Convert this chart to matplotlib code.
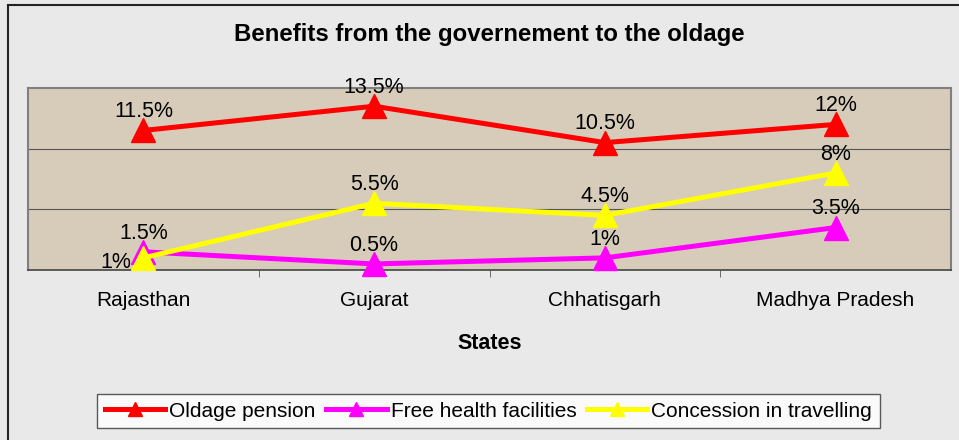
import matplotlib
matplotlib.use('Agg')
import matplotlib.pyplot as plt
import numpy as np

states = ['Rajasthan', 'Gujarat', 'Chhatisgarh', 'Madhya Pradesh']
pension = [11.5, 13.5, 10.5, 12]
health = [1.5, 0.5, 1, 3.5]
travel = [1, 5.5, 4.5, 8]
series_names = ['Oldage pension', 'Free health facilities', 'Concession in travelling']

plt.rcParams['font.family'] = ['Liberation Sans', 'DejaVu Sans']

fig = plt.figure(figsize=(9.59, 4.40), dpi=100)
fig.patch.set_facecolor('#e9e9e9')
# outer chart frame (left/top visible)
fig.add_artist(plt.Line2D([8/959, 8/959], [0, 1-5/440], color='#222222', lw=1.5))
fig.add_artist(plt.Line2D([8/959, 1], [1-5/440, 1-5/440], color='#222222', lw=1.5))

ax = fig.add_axes([28/959, 1-270/440, (951-28)/959, (270-88)/440])
ax.set_facecolor('#d6ccb9')
x = np.arange(len(states))

cols = ['#ff0000', '#ff00ff', '#ffff00']
data = [pension, health, travel]
for vals, c, name in zip(data, cols, series_names):
    ax.plot(x, vals, color=c, lw=3.6, marker='^', ms=17, mec=c, mfc=c,
            label=name, clip_on=False, zorder=3)

# data labels
for vals in data:
    for xi, v in zip(x, vals):
        lab = '%g%%' % v
        if vals is travel and xi == 0:
            ax.annotate(lab, (xi, v), xytext=(-20, -3), textcoords='offset points',
                        ha='center', va='center', fontsize=15.5, zorder=5)
        else:
            ax.annotate(lab, (xi, v), xytext=(0, 13.5), textcoords='offset points',
                        ha='center', va='center', fontsize=15.5, zorder=5)

ax.set_xlim(-0.5, 3.5)
ax.set_ylim(0, 15)
ax.set_yticks([5, 10])
ax.yaxis.grid(True, color='#555555', lw=0.8)
ax.tick_params(axis='y', length=0, labelleft=False)
ax.set_xticks(x)
ax.set_xticklabels(states, fontsize=15)
ax.set_xticks([0.5, 1.5, 2.5], minor=True)
ax.tick_params(axis='x', which='major', length=0, pad=15)
ax.tick_params(axis='x', which='minor', length=5, color='#555555', direction='out')
for s in ['top', 'right', 'left']:
    ax.spines[s].set_color('#808080')
    ax.spines[s].set_linewidth(1.5)
ax.spines['bottom'].set_color('#444444')
ax.spines['bottom'].set_linewidth(1.2)

ax.set_xlabel('States', fontsize=15.5, fontweight='bold', labelpad=17)
fig.text(489/959, 1-34/440, 'Benefits from the governement to the oldage',
         ha='center', va='center', fontsize=17.3, fontweight='bold')

leg = ax.legend(loc='center', bbox_to_anchor=(488.5/959, 1-411/440),
                bbox_transform=fig.transFigure, ncol=3, fontsize=15,
                frameon=True, fancybox=False, handlelength=2.9, handletextpad=0.2,
                columnspacing=0.5, borderpad=0.35, borderaxespad=0,
                markerscale=0.6)
leg.get_frame().set_edgecolor('#333333')
leg.get_frame().set_facecolor('white')
leg.get_frame().set_linewidth(1.0)

fig.savefig('out.png', dpi=100, facecolor=fig.get_facecolor())
